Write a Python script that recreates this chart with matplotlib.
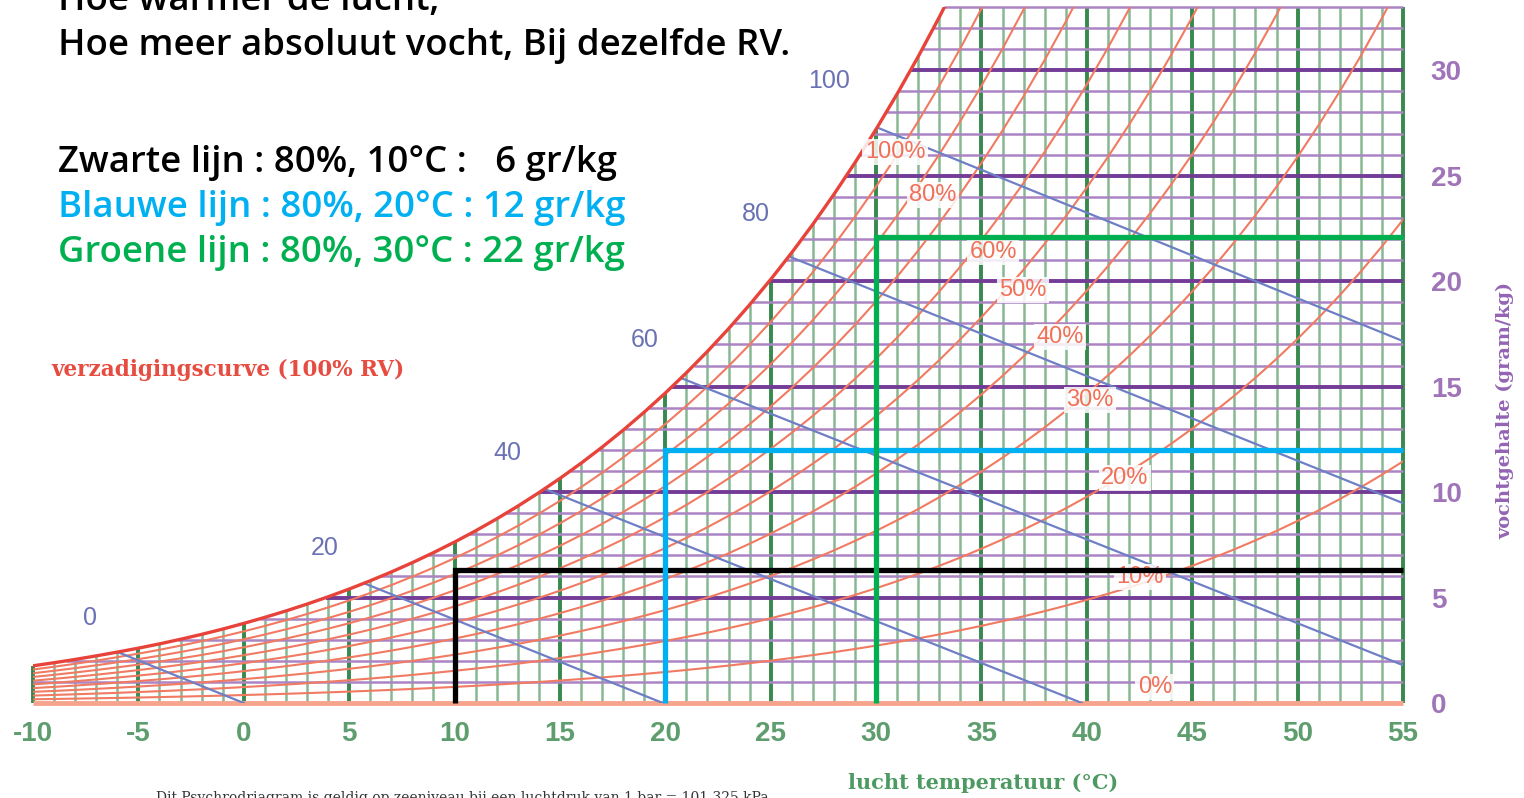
import numpy as np
import matplotlib
matplotlib.use("Agg")
import matplotlib.pyplot as plt

W, H = 1524, 798

# ---------------- data ----------------
# saturation vapour pressure over water (kPa), 1 degC steps
sat_temps = list(range(-10, 56))
sat_pressure_kpa = [
    0.2865, 0.3101, 0.3354, 0.3626, 0.3916, 0.4218, 0.4545, 0.4898, 0.5274, 0.5677,
    0.6112, 0.6571, 0.7060, 0.7581, 0.8135, 0.8725, 0.9353, 1.0020, 1.0729, 1.1481,
    1.2280, 1.3127, 1.4026, 1.4978, 1.5987, 1.7055, 1.8184, 1.9380, 2.0643, 2.1978,
    2.3388, 2.4877, 2.6448, 2.8104, 2.9851, 3.1692, 3.3631, 3.5673, 3.7822, 4.0083,
    4.2460, 4.4959, 4.7585, 5.0343, 5.3239, 5.6278, 5.9466, 6.2810, 6.6315, 6.9987,
    7.3835, 7.7863, 8.2080, 8.6492, 9.1107, 9.5932, 10.0976, 10.6246, 11.1751, 11.7500,
    12.3499, 12.9759, 13.6290, 14.3100, 15.0200, 15.7597]
air_pressure_kpa = 101.325

rh_levels = [0.1, 0.2, 0.3, 0.4, 0.5, 0.6, 0.7, 0.8, 0.9]
rh_labels = ["100%", "80%", "60%", "50%", "40%", "30%", "20%", "10%", "0%"]
rh_label_t = [30.9, 32.7, 35.55, 36.97, 38.73, 40.15, 41.81, 42.52, 43.23]
rh_label_x = [26.13, 24.09, 21.38, 19.58, 17.35, 14.37, 10.67, 5.97, 0.76]

enthalpy_levels = [0, 20, 40, 60, 80, 100]
enthalpy_label_t = [-7.3, 3.85, 12.49, 19.03, 24.3, 27.76]
enthalpy_label_x = [4.03, 7.35, 11.85, 17.2, 23.2, 29.5]

x_ticks = list(range(-10, 60, 5))
y_ticks = list(range(0, 35, 5))
grid_temps = list(range(-10, 56))
grid_moist = list(range(1, 34))

example_temps = [10, 20, 30]
example_moisture = [6.3, 12.0, 22.1]
example_colors = ["#000000", "#00b0f0", "#00b050"]

headline = ["Hoe warmer de lucht,", "Hoe meer absoluut vocht, Bij dezelfde RV."]
notes = ["Zwarte lijn : 80%, 10°C :   6 gr/kg",
         "Blauwe lijn : 80%, 20°C : 12 gr/kg",
         "Groene lijn : 80%, 30°C : 22 gr/kg"]

T_MIN, T_MAX, X_MAX = -10, 55, 33

# ---------------- derived ----------------
t_arr = np.array(sat_temps, dtype=float)
p_arr = np.array(sat_pressure_kpa)
x_sat = 622.0 * p_arr / (air_pressure_kpa - p_arr)
h_sat = 1.006 * t_arr + x_sat / 1000.0 * (2501 + 1.86 * t_arr)

fig = plt.figure(figsize=(W / 100, H / 100), dpi=100)
ax = fig.add_axes([33 / W, 95 / H, 1370 / W, 696 / H])
ax.set_xlim(T_MIN, T_MAX)
ax.set_ylim(0, X_MAX)
for s in ax.spines.values():
    s.set_visible(False)

G_THIN, G_THICK = "#86b892", "#37894d"
P_THIN, P_THICK = "#ab84c3", "#733c96"

# vertical temperature grid
for t in grid_temps:
    top = min(x_sat[sat_temps.index(t)], X_MAX)
    thick = (t % 5 == 0)
    ax.vlines(t, 0, top, colors=G_THICK if thick else G_THIN,
              lw=2.8 if thick else 1.8, zorder=1, clip_on=False)

# horizontal moisture grid
for y in grid_moist:
    left = max(T_MIN, float(np.interp(y, x_sat, t_arr)))
    thick = (y % 5 == 0)
    ax.hlines(y, left, T_MAX, colors=P_THICK if thick else P_THIN,
              lw=2.8 if thick else 1.8, zorder=1.1, clip_on=False)

# relative humidity curves
for phi in rh_levels:
    ax.plot(t_arr, phi * x_sat, color="#f07a62", lw=1.5, zorder=2)

# 0% line
ax.hlines(0, T_MIN, T_MAX, colors="#f6a48e", lw=3.5, zorder=2.2, clip_on=False)

# enthalpy lines
for h in enthalpy_levels:
    ts = float(np.interp(h, h_sat, t_arr))
    xs = float(np.interp(ts, t_arr, x_sat))
    te = min(T_MAX, h / 1.006)
    xe = (h - 1.006 * te) * 1000 / (2501 + 1.86 * te)
    ax.plot([ts, te], [xs, xe], color="#6f7fc6", lw=1.6, zorder=2.5)

# saturation curve
ax.plot(t_arr, x_sat, color="#e8433a", lw=2.4, zorder=3)

# RH labels
for lab, lt, lx in zip(rh_labels, rh_label_t, rh_label_x):
    ax.text(lt, lx, lab, fontsize=17, color="#f07058", ha="center", va="center",
            family="Liberation Sans", zorder=4,
            bbox=dict(boxstyle="square,pad=0.1", fc="white", ec="none", alpha=0.85))

# enthalpy labels
for h, lt, lx in zip(enthalpy_levels, enthalpy_label_t, enthalpy_label_x):
    ax.text(lt, lx, str(h), fontsize=18, color="#6a72b4", ha="center", va="center",
            family="Liberation Sans", zorder=4, clip_on=False)

# example lines
for t, x, c in zip(example_temps, example_moisture, example_colors):
    ax.plot([t, t, T_MAX], [0, x, x], color=c, lw=3.8, zorder=6,
            solid_joinstyle="miter", solid_capstyle="butt", clip_on=False)

# ticks
ax.set_xticks(x_ticks)
ax.set_xticklabels([str(v) for v in x_ticks])
ax.yaxis.tick_right()
ax.set_yticks(y_ticks)
ax.set_yticklabels([str(v) for v in y_ticks])
ax.tick_params(axis="x", length=0, pad=13, labelsize=20, labelcolor="#5e9e6e")
ax.tick_params(axis="y", length=0, pad=20, labelsize=20, labelcolor="#a074b8")
for lab in ax.get_xticklabels() + ax.get_yticklabels():
    lab.set_fontfamily("Liberation Sans")
    lab.set_fontweight("bold")


def fpx(x, y):
    return x / W, 1 - y / H


# axis titles
fig.text(*fpx(983, 783), "lucht temperatuur (°C)", fontsize=15, color="#4c9a62",
         family="DejaVu Serif", weight="bold", ha="center", va="center")
fig.text(*fpx(1505, 410), "vochtgehalte (gram/kg)", fontsize=14, color="#9464b4",
         family="DejaVu Serif", weight="bold", ha="center", va="center", rotation=90)
fig.text(*fpx(228, 370), "verzadigingscurve (100% RV)", fontsize=15.5, color="#e64c40",
         family="DejaVu Serif", weight="bold", ha="center", va="center")
fig.text(*fpx(462, 798), "Dit Psychrodriagram is geldig op zeeniveau bij een luchtdruk van 1 bar = 101,325 kPa",
         fontsize=10, color="#333333", family="DejaVu Serif", ha="center", va="center")

# top-left texts, one size chosen so the long headline matches the reference width
renderer = fig.canvas.get_renderer()
probe = fig.text(0, 0, headline[1], family="Open Sans", weight="semibold", fontsize=24)
size = 24 * 732 / probe.get_window_extent(renderer).width
probe.remove()
TXT = dict(family="Open Sans", weight="semibold", fontsize=size, ha="left", va="baseline")

fig.text(*fpx(58, 10), headline[0], color="black", **TXT)
fig.text(*fpx(58, 55), headline[1], color="black", **TXT)
for i, (txt, c) in enumerate(zip(notes, example_colors)):
    fig.text(*fpx(58, 172 + 45 * i), txt, color=c, **TXT)

fig.savefig("out.png", dpi=100)
